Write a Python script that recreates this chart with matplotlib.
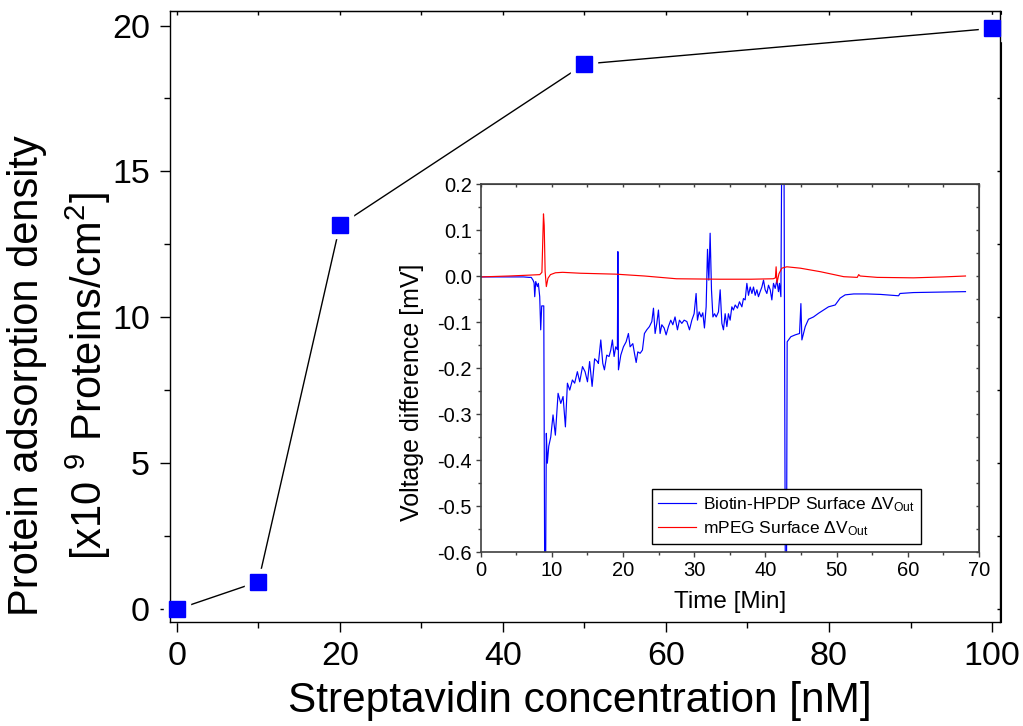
import matplotlib
matplotlib.use('Agg')
import matplotlib.pyplot as plt
from matplotlib.ticker import MultipleLocator, NullFormatter, FormatStrFormatter

plt.rcParams['font.family'] = ['Liberation Sans', 'DejaVu Sans']
plt.rcParams['mathtext.fontset'] = 'custom'
plt.rcParams['mathtext.rm'] = 'Liberation Sans'
plt.rcParams['mathtext.it'] = 'Liberation Sans:italic'
plt.rcParams['mathtext.bf'] = 'Liberation Sans:bold'
plt.rcParams['axes.unicode_minus'] = False

# ---------------- main chart data ----------------
conc = [0, 10, 20, 50, 100]
density = [0.0, 0.95, 13.16, 18.68, 19.9]

# ---------------- inset data ----------------
blue_t = [0, 3, 6, 6.8, 7.1, 7.35, 7.5, 7.59, 7.73, 7.96, 8.1, 8.29, 8.43, 8.57, 8.86,
          9.0, 9.1, 9.22, 9.36, 9.56, 9.84, 10.16, 10.49, 10.87, 11.25, 11.57, 11.9,
          12.18, 12.51, 12.88, 13.2, 13.58, 13.91, 14.3, 14.66, 15.0, 15.3, 15.65,
          16.0, 16.4, 16.53, 16.87, 17.15, 17.38, 17.71, 18.03, 18.27, 18.5, 18.74,
          18.97, 19.2, 19.27, 19.35, 19.68, 20.05, 20.43, 20.75, 20.99, 21.37, 21.6,
          21.84, 22.07, 22.4, 22.72, 23.0, 23.33, 23.7, 24.04, 24.27, 24.5, 24.74,
          24.97, 25.2, 25.44, 25.77, 26.05, 26.37, 26.7, 26.99, 27.3, 27.64, 27.92,
          28.25, 28.58, 28.96, 29.33, 29.66, 29.98, 30.26, 30.45, 30.69, 30.97, 31.2,
          31.43, 31.67, 31.86, 32.05, 32.23, 32.42, 32.62, 32.85, 33.08, 33.4, 33.64,
          33.88, 34.1, 34.34, 34.58, 34.8, 35.04, 35.28, 35.5, 35.75, 36.07, 36.35,
          36.69, 36.91, 37.15, 37.39, 37.62, 37.86, 38.1, 38.32, 38.56, 38.8, 39.02,
          39.26, 39.5, 39.73, 39.96, 40.2, 40.43, 40.67, 40.9, 41.13, 41.37, 41.6,
          41.83, 41.97, 42.17, 42.3, 42.6, 42.8, 42.95, 43.05, 43.57, 44.18, 44.79,
          44.98, 45.12, 45.59, 46.05, 46.75, 47.46, 48.16, 48.86, 49.8, 50.5, 51.2,
          52.4, 54.26, 56.13, 58.7, 58.9, 60.8, 64.6, 68.1]
blue_v = [-0.002, -0.002, -0.002, -0.003, -0.003, -0.009, -0.015, -0.045, -0.012, -0.023,
          -0.016, -0.045, -0.117, -0.065, -0.065, -0.7, -0.7, -0.342, -0.407, -0.37,
          -0.35, -0.302, -0.346, -0.255, -0.277, -0.262, -0.328, -0.233, -0.248, -0.226,
          -0.233, -0.208, -0.23, -0.197, -0.208, -0.23, -0.186, -0.24, -0.18, -0.186,
          -0.19, -0.139, -0.19, -0.204, -0.172, -0.175, -0.161, -0.139, -0.175, -0.154,
          -0.16, 0.053, -0.204, -0.172, -0.154, -0.143, -0.125, -0.154, -0.147, -0.168,
          -0.188, -0.165, -0.168, -0.161, -0.125, -0.117, -0.11, -0.099, -0.07, -0.125,
          -0.103, -0.074, -0.125, -0.106, -0.113, -0.128, -0.11, -0.096, -0.106, -0.089,
          -0.117, -0.096, -0.103, -0.096, -0.099, -0.117, -0.096, -0.082, -0.038, -0.096,
          -0.078, -0.089, -0.08, -0.113, -0.067, 0.058, -0.009, 0.093, -0.03, -0.089,
          -0.082, -0.089, -0.078, -0.03, -0.103, -0.117, -0.082, -0.11, -0.082, -0.096,
          -0.067, -0.074, -0.063, -0.07, -0.056, -0.067, -0.049, -0.052, -0.016, -0.042,
          -0.024, -0.038, -0.024, -0.042, -0.03, -0.045, -0.034, -0.024, -0.009, -0.03,
          -0.038, -0.02, -0.03, -0.052, -0.016, -0.027, -0.009, -0.034, -0.016, -0.045,
          0.3, 0.3, -0.7, -0.7, -0.143, -0.132, -0.128, -0.125, -0.06, -0.139, -0.11,
          -0.094, -0.089, -0.081, -0.074, -0.067, -0.063, -0.048, -0.041, -0.039, -0.039,
          -0.04, -0.043, -0.038, -0.036, -0.035, -0.034]

red_t = [0, 4, 7, 8.3, 8.6, 8.82, 8.92, 9.05, 9.22, 9.45, 9.8, 10.5, 11.5, 14, 19, 23,
         27.5, 33.6, 38, 41.1, 41.4, 41.5, 41.62, 41.9, 42.3, 43.0, 44.9, 47.7, 51.0,
         52.9, 53.1, 53.3, 55.7, 60.8, 65, 68.1]
red_v = [-0.002, 0.0, 0.002, 0.003, 0.008, 0.135, 0.11, 0.01, -0.023, -0.005, 0.003,
         0.007, 0.008, 0.006, 0.004, 0.0, -0.006, -0.007, -0.007, -0.006, -0.004, 0.02,
         -0.015, 0.005, 0.017, 0.02, 0.017, 0.0094, -0.0015, -0.003, 0.003, 0.0, -0.003,
         -0.004, -0.002, 0.0]

W, H = 1023, 726
fig = plt.figure(figsize=(W / 100, H / 100), dpi=100)

# ---------------- main axes ----------------
ax = fig.add_axes([169.5 / W, (H - 621.7) / H, 831 / W, 610.5 / H])
ax.plot(conc, density, color='black', lw=1.0, zorder=2)
ax.plot(conc, density, ls='none', marker='s', ms=19, mfc='white', mec='white',
        zorder=2.1, clip_on=False)
ax.plot(conc, density, ls='none', marker='s', ms=11.5, mfc='#0000FF', mec='#0000FF',
        zorder=3, clip_on=False)
ax.set_xlim(-0.9, 101.04)
ax.set_ylim(-0.42, 20.49)
ax.xaxis.set_major_locator(MultipleLocator(20))
ax.xaxis.set_minor_locator(MultipleLocator(10))
ax.yaxis.set_major_locator(MultipleLocator(5))
ax.yaxis.set_minor_locator(MultipleLocator(2.5))
ax.tick_params(which='major', direction='out', length=7, width=1, labelsize=24.5)
ax.tick_params(which='minor', direction='out', length=4, width=1)
ax.tick_params(axis='x', which='major', pad=7)
ax.tick_params(axis='y', which='major', pad=7)
for s in ax.spines.values():
    s.set_linewidth(1.0)

sx = ax.secondary_xaxis('top')
sx.xaxis.set_major_locator(MultipleLocator(10))
sx.xaxis.set_major_formatter(NullFormatter())
sx.tick_params(direction='in', length=3, width=1)
sy = ax.secondary_yaxis('right')
sy.yaxis.set_major_locator(MultipleLocator(2.5))
sy.yaxis.set_major_formatter(NullFormatter())
sy.tick_params(direction='in', length=3, width=1)

fig.text(580 / W, (H - 701) / H, 'Streptavidin concentration [nM]', fontsize=30.5,
         ha='center', va='center')
fig.text(27 / W, (H - 376) / H, 'Protein adsorption density', fontsize=30,
         rotation=90, ha='center', va='center')
fig.text(88 / W, (H - 376) / H, r'[x10 $^{9}$ Proteins/cm$^{2}$]', fontsize=30,
         rotation=90, ha='center', va='center')

# ---------------- inset ----------------
axi = fig.add_axes([480.7 / W, (H - 552) / H, 498.3 / W, 368 / H])
axi.plot(blue_t, blue_v, color='#0000FF', lw=0.85,
         label='Biotin-HPDP Surface $\\Delta$V$_{\\mathrm{Out}}$')
axi.plot(red_t, red_v, color='#FF0000', lw=0.85,
         label='mPEG Surface $\\Delta$V$_{\\mathrm{Out}}$')
axi.set_xlim(0, 70)
axi.set_ylim(-0.6, 0.2)
axi.xaxis.set_major_locator(MultipleLocator(10))
axi.xaxis.set_minor_locator(MultipleLocator(5))
axi.yaxis.set_major_locator(MultipleLocator(0.1))
axi.yaxis.set_minor_locator(MultipleLocator(0.05))
axi.yaxis.set_major_formatter(FormatStrFormatter('%.1f'))
axi.tick_params(which='major', direction='out', length=3.5, width=1, labelsize=14.5,
                pad=3, color='#404040')
axi.tick_params(which='minor', direction='out', length=2, width=1, color='#404040')
for s in axi.spines.values():
    s.set_linewidth(1.2)
    s.set_color('#404040')

sxi = axi.secondary_xaxis('top')
sxi.xaxis.set_major_locator(MultipleLocator(5))
sxi.xaxis.set_major_formatter(NullFormatter())
sxi.tick_params(direction='in', length=2.5, width=1, color='#404040')
sxi.spines['top'].set_color('#404040')
syi = axi.secondary_yaxis('right')
syi.yaxis.set_major_locator(MultipleLocator(0.05))
syi.yaxis.set_major_formatter(NullFormatter())
syi.tick_params(direction='in', length=2.5, width=1, color='#404040')
syi.spines['right'].set_color('#404040')

fig.text(730 / W, (H - 602) / H, 'Time [Min]', fontsize=17.5, ha='center', va='center')
fig.text(412 / W, (H - 392) / H, 'Voltage difference [mV]', fontsize=18,
         rotation=90, ha='center', va='center')

leg = axi.legend(loc='lower left', bbox_to_anchor=(0.344, 0.022), borderaxespad=0,
                 fontsize=12.5, frameon=True, fancybox=False, edgecolor='black',
                 handlelength=2.2, handletextpad=0.4, borderpad=0.35,
                 labelspacing=0.3, framealpha=1)
leg.get_frame().set_linewidth(1.0)

fig.savefig('out.png', dpi=100)
